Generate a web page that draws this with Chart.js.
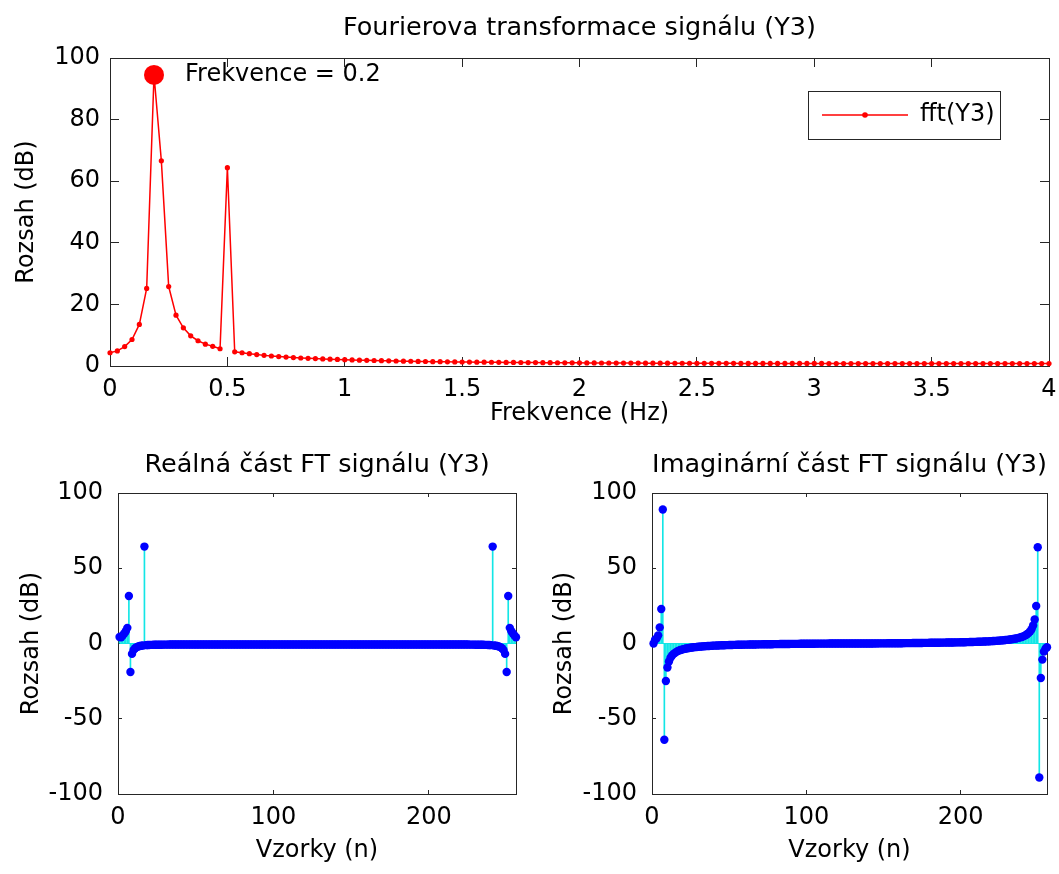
<!DOCTYPE html>
<html>
<head>
<meta charset="utf-8">
<title>Fourierova transformace signálu (Y3)</title>
<script src="https://cdn.jsdelivr.net/npm/chart.js@4.4.1/dist/chart.umd.min.js"></script>
<style>
  html, body { margin: 0; padding: 0; background: #fff; }
  body { width: 1059px; height: 874px; position: relative; overflow: hidden; }
  canvas { position: absolute; }
</style>
</head>
<body>
<canvas id="fft-chart" width="1059" height="430" style="left:0;top:0"></canvas>
<canvas id="re-chart" width="530" height="444" style="left:0;top:430px"></canvas>
<canvas id="im-chart" width="529" height="444" style="left:530px;top:430px"></canvas>
<script>
// |fft(Y3)| for bins 0..128 (0 .. 4 Hz, 1/32 Hz per bin)
const fftMag = [
  4.3, 4.9, 6.3, 8.6, 13.5, 25.2, 94.5, 66.6, 25.8, 16.5,
  12.4, 9.8, 8.2, 7.1, 6.4, 5.6, 64.4, 4.6, 4.3, 4.0,
  3.7, 3.45, 3.25, 3.05, 2.9, 2.75, 2.6, 2.5, 2.4, 2.3,
  2.2, 2.12, 2.05, 1.97, 1.9, 1.84, 1.78, 1.72, 1.67, 1.62,
  1.58, 1.54, 1.5, 1.46, 1.42, 1.39, 1.36, 1.33, 1.3, 1.27,
  1.25, 1.23, 1.21, 1.19, 1.17, 1.15, 1.13, 1.11, 1.1, 1.08,
  1.07, 1.05, 1.04, 1.03, 1.02, 1.0, 0.99, 0.98, 0.97, 0.96,
  0.95, 0.94, 0.94, 0.93, 0.92, 0.91, 0.91, 0.9, 0.89, 0.89,
  0.88, 0.88, 0.87, 0.87, 0.86, 0.86, 0.85, 0.85, 0.85, 0.84,
  0.84, 0.83, 0.83, 0.83, 0.82, 0.82, 0.82, 0.82, 0.81, 0.81,
  0.81, 0.81, 0.8, 0.8, 0.8, 0.8, 0.8, 0.79, 0.79, 0.79,
  0.79, 0.79, 0.79, 0.78, 0.78, 0.78, 0.78, 0.78, 0.78, 0.78,
  0.78, 0.78, 0.78, 0.78, 0.78, 0.78, 0.78, 0.78, 0.78
];
const freqStep = 0.03125;
const freqTicks = [0, 0.5, 1, 1.5, 2, 2.5, 3, 3.5, 4];
const magTicks = [0, 20, 40, 60, 80, 100];
const peakLabel = 'Frekvence = 0.2';

// real(fft(Y3)), samples 1..256
const realPart = [
  4.3, 4.2, 5.3, 6.7, 8.2, 10.4, 31.6, -18.9, -6.9, -4.4, -3.1, -2.4, -2.0, -1.7, -1.5, -1.3,
  64.4, -1.1, -1.0, -0.95, -0.9, -0.9, -0.85, -0.85, -0.8, -0.8, -0.8, -0.8, -0.75, -0.75, -0.75, -0.75,
  -0.7, -0.7, -0.7, -0.7, -0.7, -0.7, -0.7, -0.7, -0.7, -0.7, -0.7, -0.7, -0.7, -0.7, -0.7, -0.7,
  -0.7, -0.7, -0.7, -0.7, -0.7, -0.7, -0.7, -0.7, -0.7, -0.7, -0.7, -0.7, -0.7, -0.7, -0.7, -0.7,
  -0.7, -0.7, -0.7, -0.7, -0.7, -0.7, -0.7, -0.7, -0.7, -0.7, -0.7, -0.7, -0.7, -0.7, -0.7, -0.7,
  -0.7, -0.7, -0.7, -0.7, -0.7, -0.7, -0.7, -0.7, -0.7, -0.7, -0.7, -0.7, -0.7, -0.7, -0.7, -0.7,
  -0.7, -0.7, -0.7, -0.7, -0.7, -0.7, -0.7, -0.7, -0.7, -0.7, -0.7, -0.7, -0.7, -0.7, -0.7, -0.7,
  -0.7, -0.7, -0.7, -0.7, -0.7, -0.7, -0.7, -0.7, -0.7, -0.7, -0.7, -0.7, -0.7, -0.7, -0.7, -0.7,
  -0.7, -0.7, -0.7, -0.7, -0.7, -0.7, -0.7, -0.7, -0.7, -0.7, -0.7, -0.7, -0.7, -0.7, -0.7, -0.7,
  -0.7, -0.7, -0.7, -0.7, -0.7, -0.7, -0.7, -0.7, -0.7, -0.7, -0.7, -0.7, -0.7, -0.7, -0.7, -0.7,
  -0.7, -0.7, -0.7, -0.7, -0.7, -0.7, -0.7, -0.7, -0.7, -0.7, -0.7, -0.7, -0.7, -0.7, -0.7, -0.7,
  -0.7, -0.7, -0.7, -0.7, -0.7, -0.7, -0.7, -0.7, -0.7, -0.7, -0.7, -0.7, -0.7, -0.7, -0.7, -0.7,
  -0.7, -0.7, -0.7, -0.7, -0.7, -0.7, -0.7, -0.7, -0.7, -0.7, -0.7, -0.7, -0.7, -0.7, -0.7, -0.7,
  -0.7, -0.7, -0.7, -0.7, -0.7, -0.7, -0.7, -0.7, -0.7, -0.7, -0.7, -0.7, -0.7, -0.7, -0.7, -0.7,
  -0.7, -0.75, -0.75, -0.75, -0.75, -0.8, -0.8, -0.8, -0.8, -0.85, -0.85, -0.9, -0.9, -0.95, -1.0, -1.1,
  64.4, -1.3, -1.5, -1.7, -2.0, -2.4, -3.1, -4.4, -6.9, -18.9, 31.6, 10.4, 8.2, 6.7, 5.3, 4.2
];

// imag(fft(Y3)), samples 1..256
const imagPart = [
  0, 2.5, 3.4, 5.4, 10.7, 22.9, 89.0, -64.0, -24.9, -15.9, -12.0, -9.5, -7.95, -6.9, -6.2, -5.4,
  -4.9, -4.5, -4.2, -3.9, -3.6, -3.35, -3.15, -2.95, -2.8, -2.65, -2.5, -2.4, -2.3, -2.2, -2.1, -2.0,
  -1.92, -1.83, -1.76, -1.69, -1.62, -1.55, -1.49, -1.43, -1.38, -1.33, -1.28, -1.24, -1.2, -1.16, -1.12, -1.08,
  -1.05, -1.02, -0.99, -0.96, -0.93, -0.9, -0.88, -0.85, -0.83, -0.81, -0.78, -0.76, -0.74, -0.72, -0.7, -0.68,
  -0.66, -0.64, -0.62, -0.61, -0.59, -0.57, -0.56, -0.54, -0.52, -0.51, -0.49, -0.48, -0.46, -0.45, -0.43, -0.42,
  -0.4, -0.39, -0.38, -0.36, -0.35, -0.34, -0.32, -0.31, -0.3, -0.28, -0.27, -0.26, -0.25, -0.24, -0.22, -0.21,
  -0.2, -0.19, -0.18, -0.17, -0.16, -0.15, -0.14, -0.13, -0.12, -0.11, -0.1, -0.09, -0.08, -0.08, -0.07, -0.06,
  -0.05, -0.05, -0.04, -0.04, -0.03, -0.03, -0.02, -0.02, -0.02, -0.01, -0.01, -0.01, 0, 0, 0, 0,
  0, 0, 0, 0, 0, 0.01, 0.01, 0.01, 0.02, 0.02, 0.02, 0.03, 0.03, 0.04, 0.04, 0.05,
  0.05, 0.06, 0.07, 0.08, 0.08, 0.09, 0.1, 0.11, 0.12, 0.13, 0.14, 0.15, 0.16, 0.17, 0.18, 0.19,
  0.2, 0.21, 0.22, 0.24, 0.25, 0.26, 0.27, 0.28, 0.3, 0.31, 0.32, 0.34, 0.35, 0.36, 0.38, 0.39,
  0.4, 0.42, 0.43, 0.45, 0.46, 0.48, 0.49, 0.51, 0.52, 0.54, 0.56, 0.57, 0.59, 0.61, 0.62, 0.64,
  0.66, 0.68, 0.7, 0.72, 0.74, 0.76, 0.78, 0.81, 0.83, 0.85, 0.88, 0.9, 0.93, 0.96, 0.99, 1.02,
  1.05, 1.08, 1.12, 1.16, 1.2, 1.24, 1.28, 1.33, 1.38, 1.43, 1.49, 1.55, 1.62, 1.69, 1.76, 1.83,
  1.92, 2.0, 2.1, 2.2, 2.3, 2.4, 2.5, 2.65, 2.8, 2.95, 3.15, 3.35, 3.6, 3.9, 4.2, 4.5,
  4.9, 5.4, 6.2, 6.9, 7.95, 9.5, 12.0, 15.9, 24.9, 64.0, -89.0, -22.9, -10.7, -5.4, -3.4, -2.5
];
const sampleTicks = [0, 100, 200];
const partTicks = [-100, -50, 0, 50, 100];

const FONT = 'DejaVu Sans';
const AXIS = '#262626';
const RED = '#ff0000';
const BLUE = '#0000ff';
const CYAN = '#12e6e6';

Chart.defaults.font.family = FONT;
Chart.defaults.color = '#000';

// MATLAB look: box on all four sides, tick marks pointing inwards
function boxAxes(cfg) {
  const fixTicks = list => scale => { scale.ticks = list.map(v => ({ value: v })); };
  const grid = () => ({ drawOnChartArea: false, color: AXIS, lineWidth: 1, tickLength: -cfg.tickLen, offset: false });
  const border = () => ({ display: true, color: AXIS, width: 1 });
  const font = { family: FONT, size: 24 };
  return {
    x: {
      type: 'linear', position: 'bottom', min: cfg.xMin, max: cfg.xMax, offset: false,
      afterBuildTicks: fixTicks(cfg.xTicks),
      afterFit: s => { s.height = cfg.xHeight; s.paddingLeft = 0; s.paddingRight = 0; },
      grid: grid(), border: border(),
      ticks: { color: '#000', font, autoSkip: false, maxRotation: 0, padding: cfg.xTickPad, callback: v => String(v) },
      title: { display: true, text: cfg.xTitle, color: '#000', font, padding: { top: 0, bottom: cfg.xTitlePad } },
    },
    x2: {
      type: 'linear', position: 'top', min: cfg.xMin, max: cfg.xMax, offset: false,
      afterBuildTicks: fixTicks(cfg.xTicks),
      afterFit: s => { s.height = 0; s.paddingLeft = 0; s.paddingRight = 0; },
      grid: grid(), border: border(), ticks: { display: false },
    },
    y: {
      type: 'linear', position: 'left', min: cfg.yMin, max: cfg.yMax,
      afterBuildTicks: fixTicks(cfg.yTicks),
      afterFit: s => { s.width = cfg.yWidth; s.paddingTop = 0; s.paddingBottom = 0; },
      grid: grid(), border: border(),
      ticks: { color: '#000', font, padding: 19, callback: v => String(v) },
      title: { display: true, text: 'Rozsah (dB)', color: '#000', font, padding: { top: cfg.yTitlePad, bottom: 0 } },
    },
    y2: {
      type: 'linear', position: 'right', min: cfg.yMin, max: cfg.yMax,
      afterBuildTicks: fixTicks(cfg.yTicks),
      afterFit: s => { s.width = 0; s.paddingTop = 0; s.paddingBottom = 0; },
      grid: grid(), border: border(), ticks: { display: false },
    },
  };
}

function titleOpts(text, top, bottom) {
  return {
    display: true, text, fullSize: false, color: '#000',
    font: { family: FONT, size: 25.5, weight: 'normal' },
    padding: { top, bottom },
  };
}

function legendSample() {
  const c = document.createElement('canvas');
  c.width = 86; c.height = 8;
  const g = c.getContext('2d');
  g.strokeStyle = RED; g.lineWidth = 1.4;
  g.beginPath(); g.moveTo(0, 4); g.lineTo(86, 4); g.stroke();
  g.fillStyle = RED;
  g.beginPath(); g.arc(43, 4, 2.8, 0, Math.PI * 2); g.fill();
  return c;
}

// legend sits inside the axes, near the top right corner
const legendPlace = {
  id: 'legendPlace',
  afterLayout(chart) {
    const lg = chart.legend;
    if (!lg) return;
    const area = chart.chartArea;
    const w = lg.width, h = lg.height;
    lg.left = area.right - 237;
    lg.top = area.top + 35;
    lg.right = lg.left + w;
    lg.bottom = lg.top + h;
  }
};

// frame round the legend
const legendFrame = {
  id: 'legendFrame',
  afterDraw(chart) {
    const hb = chart.legend && chart.legend.legendHitBoxes && chart.legend.legendHitBoxes[0];
    if (!hb) return;
    const ctx = chart.ctx;
    const cy = hb.top + hb.height / 2;
    ctx.save();
    ctx.strokeStyle = AXIS;
    ctx.lineWidth = 1;
    ctx.strokeRect(Math.round(hb.left - 14) + 0.5, Math.round(cy - 24) + 0.5, Math.round(hb.width + 19), 48);
    ctx.restore();
  }
};

const fftPoints = fftMag.map((v, i) => ({ x: i * freqStep, y: v }));
const peakIndex = fftMag.indexOf(Math.max(...fftMag));

// text next to the marked peak
const peakNote = {
  id: 'peakNote',
  afterDatasetsDraw(chart) {
    const { x, y } = chart.scales;
    const p = fftPoints[peakIndex];
    const ctx = chart.ctx;
    ctx.save();
    ctx.font = '24px "' + FONT + '"';
    ctx.fillStyle = '#000';
    ctx.textAlign = 'left';
    ctx.textBaseline = 'middle';
    ctx.fillText(peakLabel, x.getPixelForValue(p.x) + 31, y.getPixelForValue(p.y));
    ctx.restore();
  }
};

new Chart(document.getElementById('fft-chart'), {
  type: 'scatter',
  data: {
    datasets: [
      {
        label: 'peak', data: [fftPoints[peakIndex]],
        pointRadius: 10, pointBackgroundColor: RED, pointBorderWidth: 0, clip: false,
      },
      {
        type: 'line', label: 'fft(Y3)', data: fftPoints,
        borderColor: RED, borderWidth: 1.5, pointRadius: 2.6,
        pointBackgroundColor: RED, pointBorderWidth: 0, tension: 0, clip: false,
      },
    ],
  },
  options: {
    responsive: false, animation: false, devicePixelRatio: 1,
    layout: { padding: { left: 0, right: 10, top: 0, bottom: 0 } },
    scales: boxAxes({
      xMin: 0, xMax: 4, xTicks: freqTicks, yMin: 0, yMax: 100, yTicks: magTicks,
      tickLen: 9, xHeight: 64, yWidth: 110, xTickPad: 18.6, xTitlePad: 1.6, yTitlePad: 12.6,
      xTitle: 'Frekvence (Hz)',
    }),
    plugins: {
      title: titleOpts('Fourierova transformace signálu (Y3)', 13, 14.4),
      tooltip: { enabled: false },
      legend: {
        position: 'chartArea', align: 'start',
        labels: {
          color: '#000', font: { family: FONT, size: 24 }, padding: 10,
          usePointStyle: true, pointStyle: legendSample(), pointStyleWidth: 86,
          filter: item => item.datasetIndex === 1,
        },
      },
    },
  },
  plugins: [peakNote, legendPlace, legendFrame],
});

function stemChart(id, values, title, cfg) {
  const pts = values.map((v, i) => ({ x: i + 1, y: v }));
  const base = [{ x: pts[0].x, y: 0 }, { x: pts[pts.length - 1].x, y: 0 }];
  return new Chart(document.getElementById(id), {
    type: 'scatter',
    data: {
      datasets: [
        { data: pts, pointRadius: 4.2, pointBackgroundColor: BLUE, pointBorderWidth: 0, clip: false, order: 0 },
        { type: 'bar', data: pts, backgroundColor: CYAN, barThickness: 1, order: 1 },
        { type: 'line', data: base, borderColor: CYAN, borderWidth: 1, pointRadius: 0, order: 2 },
      ],
    },
    options: {
      responsive: false, animation: false, devicePixelRatio: 1,
      layout: { padding: { left: 0, right: cfg.right, top: 0, bottom: 0 } },
      scales: boxAxes({
        xMin: 0, xMax: 256, xTicks: sampleTicks, yMin: -100, yMax: 100, yTicks: partTicks,
        tickLen: 4, xHeight: 80, yWidth: cfg.yWidth, xTickPad: 13.6, xTitlePad: 8.6, yTitlePad: cfg.yTitlePad,
        xTitle: 'Vzorky (n)',
      }),
      plugins: {
        title: titleOpts(title, 19.7, 12.7),
        tooltip: { enabled: false },
        legend: { display: false },
      },
    },
  });
}

stemChart('re-chart', realPart, 'Reálná část FT signálu (Y3)', { right: 14, yWidth: 118, yTitlePad: 17.6 });
stemChart('im-chart', imagPart, 'Imaginární část FT signálu (Y3)', { right: 12, yWidth: 122, yTitlePad: 20.6 });
</script>
</body>
</html>
